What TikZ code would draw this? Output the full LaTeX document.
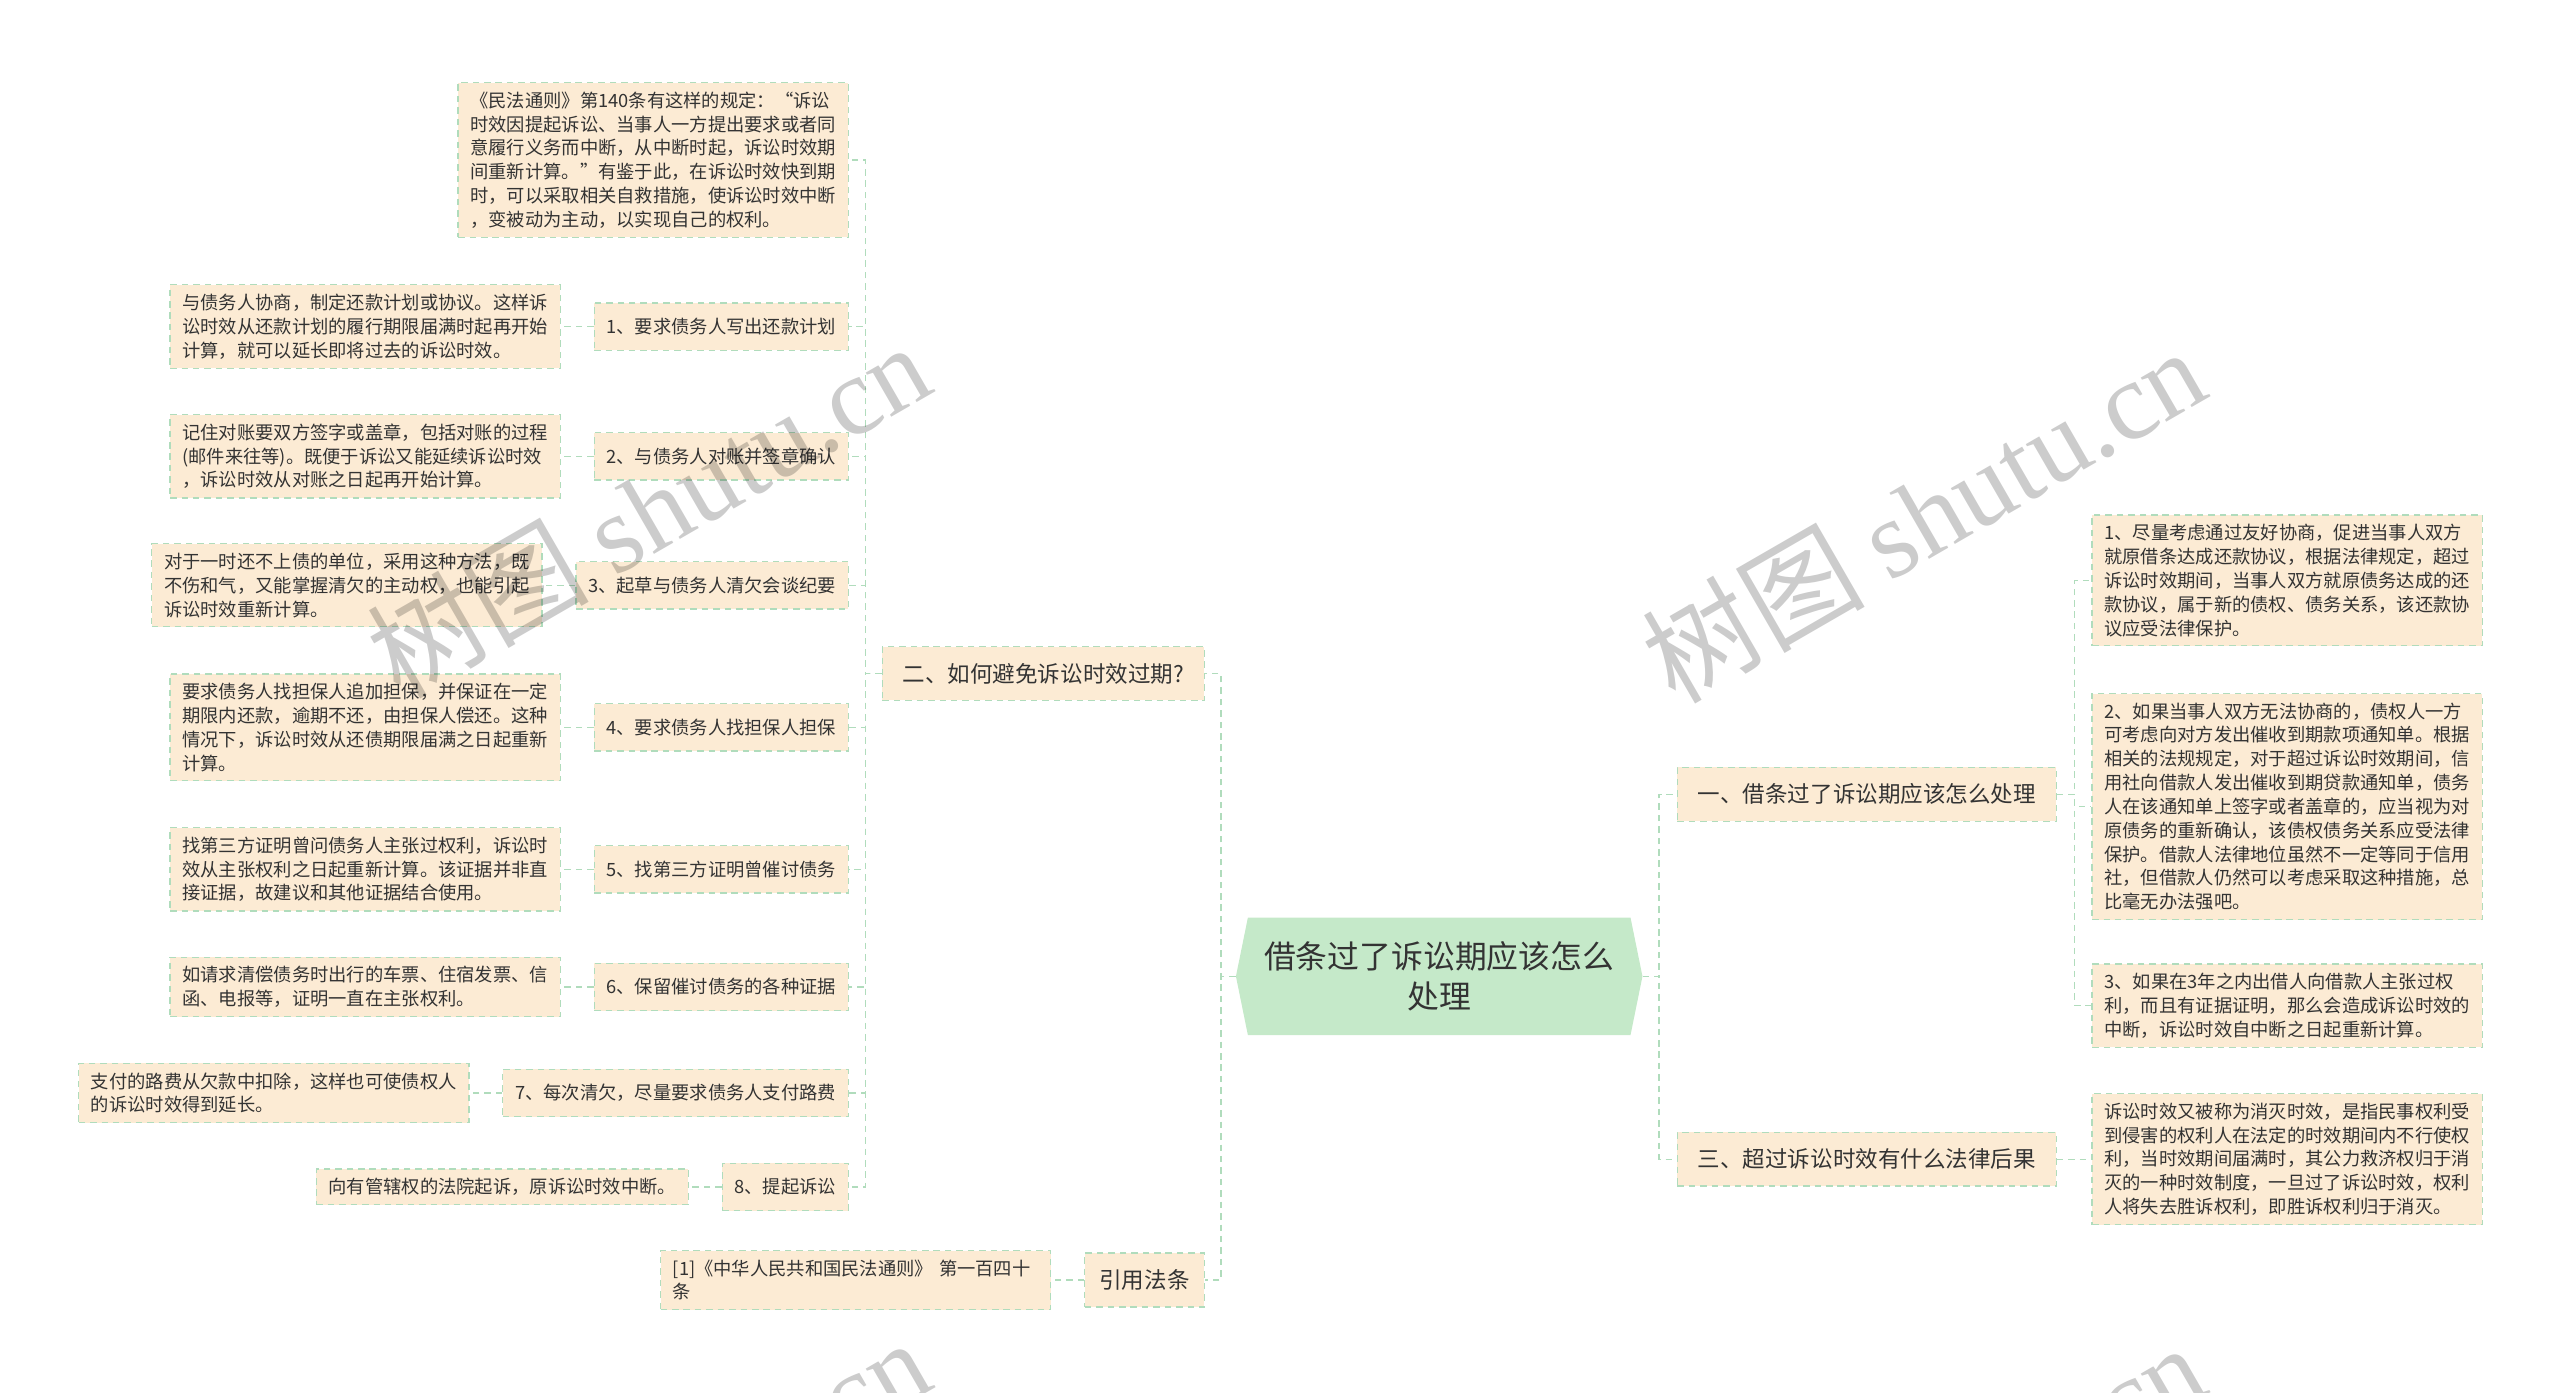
\documentclass[tikz,border=0pt]{standalone}
\usepackage{fontspec}
\setmainfont{Noto Sans CJK SC}
\newfontfamily\wmfont{Liberation Serif}
\usetikzlibrary{positioning,shapes.symbols}

\definecolor{boxfill}{RGB}{252,235,212}
\definecolor{linegreen}{RGB}{176,220,188}
\definecolor{rootfill}{RGB}{197,233,201}
\definecolor{inkgray}{RGB}{51,51,51}

\begin{document}
\begin{tikzpicture}[x=1pt, y=-1pt,
  box/.style={draw=linegreen, dash pattern=on 4pt off 3pt, line width=0.8pt,
    fill=boxfill, text=inkgray, inner xsep=7.5pt, inner ysep=5.6pt,
    font=\fontsize{11.2}{14.6}\selectfont},
  detail/.style={box, text width=224pt, align=left},
  sub/.style={box, minimum height=29pt},
  topic/.style={box, minimum height=33pt, inner xsep=12.5pt,
    font=\fontsize{13.8}{16}\selectfont},
  link/.style={draw=linegreen, dash pattern=on 4pt off 3pt, line width=0.8pt},
  wm/.style={text=black, opacity=0.2, rotate=30, font=\fontsize{68}{68}\selectfont}
  ]
  \useasboundingbox (0,0) rectangle (1568,853);
  \clip (0,0) rectangle (1568,853);

  % root
  \node[signal, signal to=west and east, signal pointer angle=157, fill=rootfill,
    text=inkgray, minimum width=249pt, minimum height=72pt, align=center,
    font=\fontsize{19.5}{25}\selectfont] (root) at (881.5,598)
    {借条过了诉讼期应该怎么\\处理};

  % main topics
  \node[topic, anchor=east] (two) at (738,412.5) {二、如何避免诉讼时效过期?};
  \node[topic, anchor=east, inner xsep=9pt] (cite) at (738,784) {引用法条};
  \node[topic, anchor=west] (one) at (1027,486.5) {一、借条过了诉讼期应该怎么处理};
  \node[topic, anchor=west] (three) at (1027,710) {三、超过诉讼时效有什么法律后果};

  % left side
  \node[detail, anchor=east] (a0) at (520,98) {《民法通则》第140条有这样的规定：“诉讼\\
    时效因提起诉讼、当事人一方提出要求或者同\\
    意履行义务而中断，从中断时起，诉讼时效期\\
    间重新计算。”有鉴于此，在诉讼时效快到期\\
    时，可以采取相关自救措施，使诉讼时效中断\\
    ，变被动为主动，以实现自己的权利。};
  \node[sub, anchor=east] (a1) at (520,200) {1、要求债务人写出还款计划};
  \node[sub, anchor=east] (a2) at (520,279.5) {2、与债务人对账并签章确认};
  \node[sub, anchor=east] (a3) at (520,358.5) {3、起草与债务人清欠会谈纪要};
  \node[sub, anchor=east] (a4) at (520,445.5) {4、要求债务人找担保人担保};
  \node[sub, anchor=east] (a5) at (520,532.5) {5、找第三方证明曾催讨债务};
  \node[sub, anchor=east] (a6) at (520,604.5) {6、保留催讨债务的各种证据};
  \node[sub, anchor=east] (a7) at (520,669.5) {7、每次清欠，尽量要求债务人支付路费};
  \node[sub, anchor=east] (a8) at (520,727) {8、提起诉讼};

  \node[detail, left=20pt of a1] (d1) {与债务人协商，制定还款计划或协议。这样诉\\
    讼时效从还款计划的履行期限届满时起再开始\\
    计算，就可以延长即将过去的诉讼时效。};
  \node[detail, left=20pt of a2] (d2) {记住对账要双方签字或盖章，包括对账的过程\\
    (邮件来往等)。既便于诉讼又能延续诉讼时效\\
    ，诉讼时效从对账之日起再开始计算。};
  \node[detail, left=20pt of a3] (d3) {对于一时还不上债的单位，采用这种方法，既\\
    不伤和气，又能掌握清欠的主动权，也能引起\\
    诉讼时效重新计算。};
  \node[detail, left=20pt of a4] (d4) {要求债务人找担保人追加担保，并保证在一定\\
    期限内还款，逾期不还，由担保人偿还。这种\\
    情况下，诉讼时效从还债期限届满之日起重新\\
    计算。};
  \node[detail, left=20pt of a5] (d5) {找第三方证明曾问债务人主张过权利，诉讼时\\
    效从主张权利之日起重新计算。该证据并非直\\
    接证据，故建议和其他证据结合使用。};
  \node[detail, left=20pt of a6] (d6) {如请求清偿债务时出行的车票、住宿发票、信\\
    函、电报等，证明一直在主张权利。};
  \node[detail, left=20pt of a7] (d7) {支付的路费从欠款中扣除，这样也可使债权人\\
    的诉讼时效得到延长。};
  \node[box, left=20pt of a8] (d8) {向有管辖权的法院起诉，原诉讼时效中断。};
  \node[detail, left=20pt of cite] (ref) {[1]《中华人民共和国民法通则》 第一百四十\\
    条};

  % right side
  \node[detail, anchor=west] (r1) at (1281,355.5) {1、尽量考虑通过友好协商，促进当事人双方\\
    就原借条达成还款协议，根据法律规定，超过\\
    诉讼时效期间，当事人双方就原债务达成的还\\
    款协议，属于新的债权、债务关系，该还款协\\
    议应受法律保护。};
  \node[detail, anchor=west] (r2) at (1281,494) {2、如果当事人双方无法协商的，债权人一方\\
    可考虑向对方发出催收到期款项通知单。根据\\
    相关的法规规定，对于超过诉讼时效期间，信\\
    用社向借款人发出催收到期贷款通知单，债务\\
    人在该通知单上签字或者盖章的，应当视为对\\
    原债务的重新确认，该债权债务关系应受法律\\
    保护。借款人法律地位虽然不一定等同于信用\\
    社，但借款人仍然可以考虑采取这种措施，总\\
    比毫无办法强吧。};
  \node[detail, anchor=west] (r3) at (1281,616) {3、如果在3年之内出借人向借款人主张过权\\
    利，而且有证据证明，那么会造成诉讼时效的\\
    中断，诉讼时效自中断之日起重新计算。};
  \node[detail, anchor=west] (r4) at (1281,710) {诉讼时效又被称为消灭时效，是指民事权利受\\
    到侵害的权利人在法定的时效期间内不行使权\\
    利，当时效期间届满时，其公力救济权归于消\\
    灭的一种时效制度，一旦过了诉讼时效，权利\\
    人将失去胜诉权利，即胜诉权利归于消灭。};

  % connectors
  \draw[link] (root.west) -- ++(-9,0) |- (two.east);
  \draw[link] (root.west) -- ++(-9,0) |- (cite.east);
  \draw[link] (root.east) -- ++(10,0) |- (one.west);
  \draw[link] (root.east) -- ++(10,0) |- (three.west);
  \draw[link] (two.west) -- ++(-10,0) |- (a0.east);
  \draw[link] (two.west) -- ++(-10,0) |- (a1.east);
  \draw[link] (two.west) -- ++(-10,0) |- (a2.east);
  \draw[link] (two.west) -- ++(-10,0) |- (a3.east);
  \draw[link] (two.west) -- ++(-10,0) |- (a4.east);
  \draw[link] (two.west) -- ++(-10,0) |- (a5.east);
  \draw[link] (two.west) -- ++(-10,0) |- (a6.east);
  \draw[link] (two.west) -- ++(-10,0) |- (a7.east);
  \draw[link] (two.west) -- ++(-10,0) |- (a8.east);
  \draw[link] (a1.west) -- (d1.east);
  \draw[link] (a2.west) -- (d2.east);
  \draw[link] (a3.west) -- (d3.east);
  \draw[link] (a4.west) -- (d4.east);
  \draw[link] (a5.west) -- (d5.east);
  \draw[link] (a6.west) -- (d6.east);
  \draw[link] (a7.west) -- (d7.east);
  \draw[link] (a8.west) -- (d8.east);
  \draw[link] (cite.west) -- (ref.east);
  \draw[link] (one.east) -- ++(11,0) |- (r1.west);
  \draw[link] (one.east) -- ++(11,0) |- (r2.west);
  \draw[link] (one.east) -- ++(11,0) |- (r3.west);
  \draw[link] (three.east) -- (r4.west);

  % watermark
  \node[wm] (wm1) at (397,312) {树图 {\wmfont shutu.cn}};
  \node[wm] (wm2) at (1178,315) {树图 {\wmfont shutu.cn}};
  \node[wm] (wm3) at (397,922) {树图 {\wmfont shutu.cn}};
  \node[wm] (wm4) at (1178,925) {树图 {\wmfont shutu.cn}};
\end{tikzpicture}
\end{document}
